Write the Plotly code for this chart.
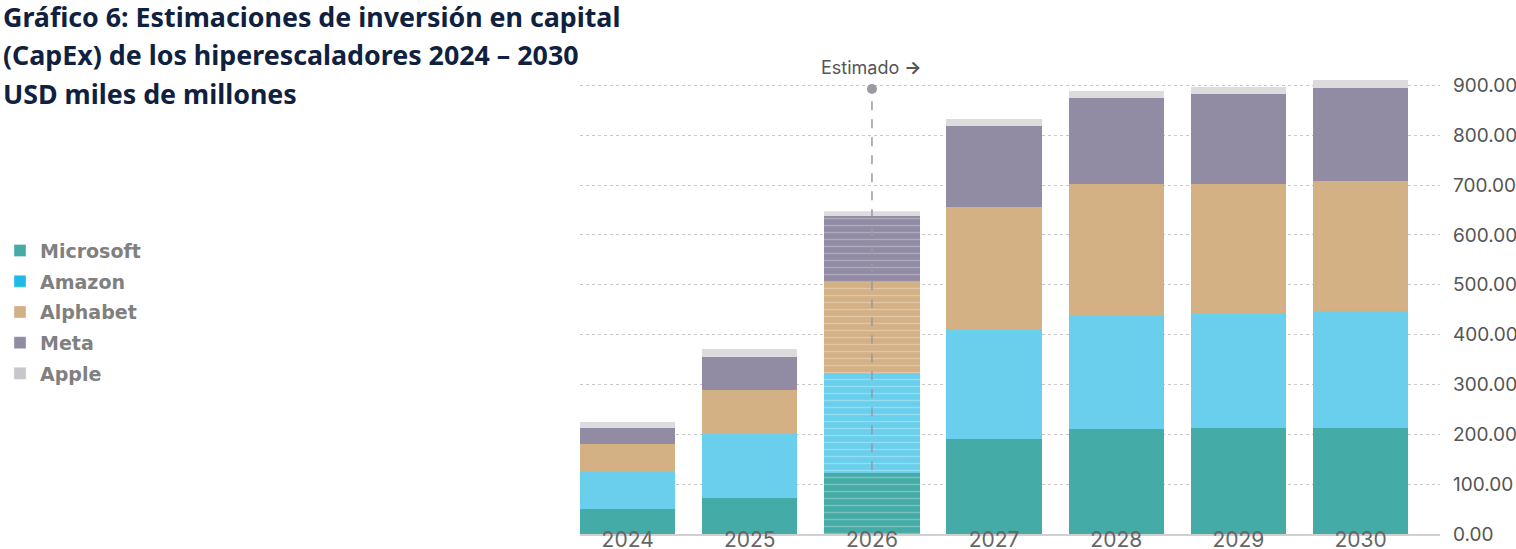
import plotly.graph_objects as go

years = ["2024", "2025", "2026", "2027", "2028", "2029", "2030"]
microsoft = [51, 73, 123, 190, 210, 212, 212]
amazon = [74, 129, 199, 222, 230, 232, 236]
alphabet = [55, 86, 183, 245, 263, 259, 261]
meta = [32, 68, 134, 161, 171, 179, 185]
apple = [12, 16, 10, 14, 14, 14, 16]
estimated_from = "2026"
y_ticks = [0, 100, 200, 300, 400, 500, 600, 700, 800, 900]
title_lines = ["Gráfico 6: Estimaciones de inversión en capital",
               "(CapEx) de los hiperescaladores 2024 – 2030",
               "USD miles de millones"]

series = [
    ("Microsoft", microsoft, "#45ABA6", "#45ABA6"),
    ("Amazon", amazon, "#6ACFEC", "#1EB9E8"),
    ("Alphabet", alphabet, "#D4B085", "#D4B085"),
    ("Meta", meta, "#918BA3", "#918BA3"),
    ("Apple", apple, "#DCDCDE", "#C6C6CB"),
]

fig = go.Figure()
pattern_shapes = ["-" if y == estimated_from else "" for y in years]
for name, vals, col, lcol in series:
    fig.add_trace(go.Bar(
        x=years, y=vals, name=name, legendgroup=name,
        marker=dict(color=col, line=dict(width=0),
                    pattern=dict(shape=pattern_shapes, fgcolor="rgba(255,255,255,0.55)",
                                 bgcolor=col, size=7, solidity=0.2)),
        showlegend=False,
    ))
    # legend entry with the legend colour
    fig.add_trace(go.Bar(
        x=[years[0]], y=[None], name=f"<b>{name}</b>", legendgroup=name,
        marker=dict(color=lcol), showlegend=True,
    ))

idx = years.index(estimated_from)
fig.add_shape(type="line", xref="x", yref="y", x0=idx, x1=idx,
              y0=microsoft[idx] + 5, y1=893, line=dict(color="#9A9AA0", width=1.5, dash="dash"),
              layer="above")
fig.add_trace(go.Scatter(x=[estimated_from], y=[893], mode="markers",
                         marker=dict(color="#9A9AA0", size=10), showlegend=False,
                         hoverinfo="skip"))
fig.add_annotation(x=idx, y=893, xref="x", yref="y", text="Estimado <b>→</b>",
                   showarrow=False, yanchor="bottom", yshift=9,
                   font=dict(family="Inter", size=18, color="#555555"))

for line, ypos in zip(title_lines, [1.155, 1.073, 0.990]):
    fig.add_annotation(xref="paper", yref="paper", x=-0.673, y=ypos, xanchor="left", yanchor="top",
                       align="left", showarrow=False, text=f"<b>{line}</b>",
                       font=dict(family="Noto Sans", size=26.8, color="#10213F"))

fig.update_layout(
    width=1516, height=549,
    margin=dict(l=580, r=76, t=68, b=15),
    plot_bgcolor="white", paper_bgcolor="white",
    barmode="stack", bargap=0.22,
    legend=dict(xref="container", yref="container", x=0, y=0.578, xanchor="left", yanchor="top",
                traceorder="grouped", tracegroupgap=3,
                font=dict(family="DejaVu Sans", size=19, color="#808080"),
                bgcolor="rgba(0,0,0,0)", itemclick=False),
    xaxis=dict(range=[-0.39, 6.65], showgrid=False, showline=True, linecolor="#D0D0D0",
               linewidth=2, ticks="", automargin=False, ticklabelstandoff=-14,
               tickfont=dict(family="Inter", size=21, color="#666666")),
    yaxis=dict(range=[0, 935], side="right", tickvals=y_ticks,
               ticktext=[f"{v:.2f}" for v in y_ticks], showgrid=True, gridcolor="#C8C8C8",
               griddash="dot", gridwidth=1, zeroline=False, automargin=False,
               ticklabelstandoff=12, tickfont=dict(family="Inter", size=19, color="#555555")),
)

fig.write_html("out.html")
